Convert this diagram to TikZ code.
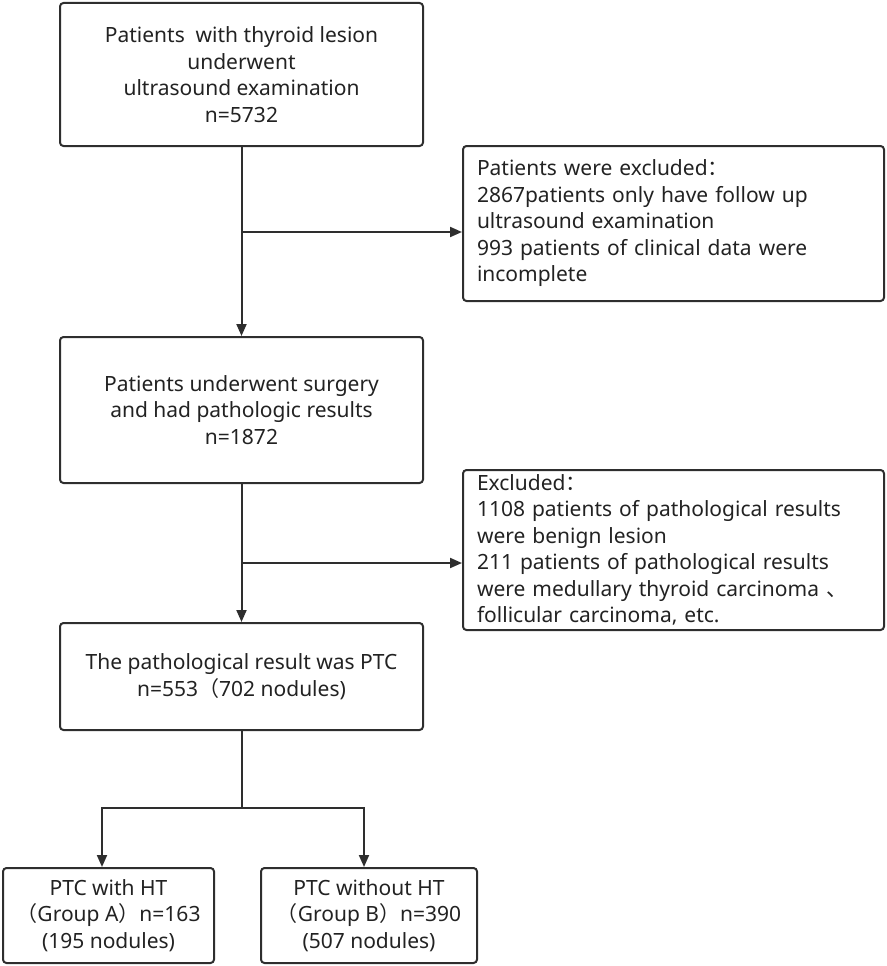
\documentclass[tikz,border=0pt]{standalone}
\usepackage{fontspec}
\setmainfont{Noto Sans}
\newfontfamily\cjk{Noto Sans CJK SC}
\usetikzlibrary{arrows.meta}
\definecolor{ln}{HTML}{2E2E2E}
\definecolor{tx}{HTML}{222222}
\begin{document}
\begin{tikzpicture}[x=1pt,y=-1pt,
  box/.style={draw=ln, line width=2pt, rounded corners=3.5pt, align=center,
    font=\fontsize{21}{26.5}\selectfont, text=tx, inner sep=0pt},
  lbox/.style={box, align=left, inner xsep=14pt},
  arr/.style={draw=ln, line width=2pt, -{Triangle[length=12pt,width=10pt]}},
  ln/.style={draw=ln, line width=2pt}]
\useasboundingbox (0,0) rectangle (886,966);
\node[box, minimum width=363pt, minimum height=143pt] (b1) at (241.5,74.5)
  {Patients\ \ with thyroid lesion\\underwent\\ultrasound examination\\n=5732};
\node[lbox, minimum width=421pt, minimum height=155pt, text width=393pt] (b2) at (673.5,223.5)
  {Patients were excluded{\cjk ：}\\2867patients only have follow up\\ultrasound examination\\993 patients of clinical data were\\incomplete};
\node[box, minimum width=363pt, minimum height=146pt] (b3) at (241.5,410)
  {Patients underwent surgery\\and had pathologic results\\n=1872};
\node[lbox, minimum width=421pt, minimum height=160pt, text width=393pt] (b4) at (673.5,550)
  {Excluded{\cjk ：}\\1108 patients of pathological results\\were benign lesion\\211 patients of pathological results\\were medullary thyroid carcinoma {\cjk 、}\\follicular carcinoma, etc.};
\node[box, minimum width=363pt, minimum height=107pt] (b5) at (241.5,676.5)
  {The pathological result was PTC\\n=553{\cjk （}702 nodules)};
\node[box, minimum width=211pt, minimum height=95pt] (b6) at (108.5,915.5)
  {PTC with HT\\{\cjk （}Group A{\cjk ）}n=163\\(195 nodules)};
\node[box, minimum width=216pt, minimum height=95pt] (b7) at (369,915.5)
  {PTC without HT\\{\cjk （}Group B{\cjk ）}n=390\\(507 nodules)};
\draw[arr] (b1.south) -- (b3.north);
\coordinate (j1) at (241.5,232);
\draw[arr] (j1) -- (j1 -| b2.west);
\draw[arr] (b3.south) -- (b5.north);
\coordinate (j2) at (241.5,563);
\draw[arr] (j2) -- (j2 -| b4.west);
\coordinate (j3) at (241.5,808);
\coordinate (l3) at (102,808);
\coordinate (r3) at (364,808);
\draw[ln] (b5.south) -- (j3);
\draw[ln, line cap=rect] (l3) -- (r3);
\draw[arr] (l3) -- (l3 |- b6.north);
\draw[arr] (r3) -- (r3 |- b7.north);
\end{tikzpicture}
\end{document}
